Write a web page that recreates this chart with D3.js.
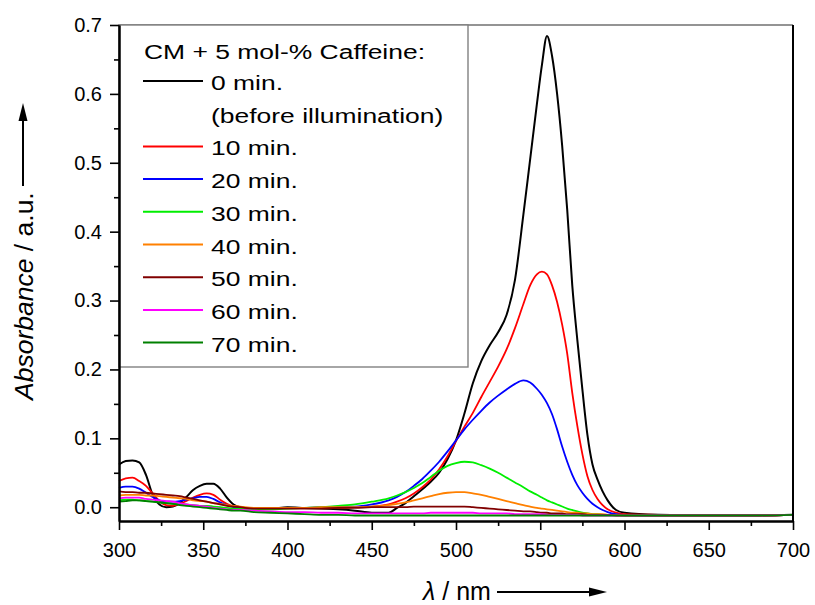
<!DOCTYPE html>
<html><head><meta charset="utf-8">
<script src="https://cdn.jsdelivr.net/npm/d3@7"></script>
<style>
body{margin:0;background:#fff}
svg{display:block}
text{font-family:"Liberation Sans",Arial,sans-serif;fill:#000}
</style>
</head><body>
<svg id="chart" width="815" height="605"></svg>
<script>
// ---------------- data ----------------
const wavelengths = [
  300,304,308,312,316,320,324,328,332,336,340,344,348,352,356,360,364,368,372,
  380,390,400,410,420,430,440,450,460,
  465,470,475,480,485,490,495,500,505,510,515,520,525,530,535,540,
  544,548,551,554,557,560,563,566,569,572,575,578,581,584,587,590,
  595,600,620,650,680,700];

const abs0min = [
  0.062,0.067,0.068,0.065,0.047,0.018,0.004,0.000,0.001,0.006,0.015,0.025,0.031,0.034,0.034,0.027,0.014,0.004,0.000,
  -0.002,-0.002,0.000,-0.001,-0.002,-0.003,-0.005,-0.008,-0.008,
  -0.001,0.006,0.016,0.026,0.037,0.050,0.070,0.097,0.136,0.180,0.212,0.235,0.254,0.279,0.33,0.425,
  0.505,0.585,0.642,0.684,0.655,0.60,0.525,0.432,0.322,0.243,0.171,0.105,0.062,0.04,0.023,0.010,
  -0.004,-0.008,-0.011,-0.012,-0.012,-0.011];
const abs10min = [
  0.038,0.042,0.043,0.038,0.031,0.020,0.009,0.003,0.002,0.005,0.009,0.014,0.018,0.020,0.018,0.011,0.005,0.001,-0.001,
  -0.002,-0.002,-0.001,-0.001,-0.001,-0.001,0.000,0.001,0.004,
  0.008,0.013,0.020,0.029,0.040,0.055,0.074,0.096,0.117,0.137,0.16,0.182,0.204,0.229,0.26,0.295,
  0.322,0.338,0.342,0.338,0.322,0.298,0.265,0.223,0.166,0.118,0.077,0.045,0.025,0.012,0.003,-0.003,
  -0.008,-0.010,-0.011,-0.012,-0.012,-0.011];
const abs20min = [
  0.028,0.030,0.030,0.027,0.021,0.015,0.010,0.008,0.008,0.009,0.011,0.013,0.015,0.015,0.012,0.007,0.003,0.000,-0.001,
  -0.002,-0.002,-0.001,-0.001,0.000,0.001,0.001,0.004,0.010,
  0.015,0.022,0.031,0.041,0.053,0.066,0.081,0.097,0.113,0.127,0.140,0.152,0.162,0.171,0.179,0.184,
  0.181,0.172,0.163,0.151,0.135,0.113,0.088,0.066,0.047,0.032,0.021,0.012,0.005,0.000,-0.004,-0.007,
  -0.010,-0.011,-0.012,-0.012,-0.012,-0.011];
const abs30min = [
  0.010,0.011,0.011,0.010,0.009,0.008,0.007,0.006,0.005,0.005,0.004,0.003,0.002,0.002,0.001,0.000,-0.001,-0.002,-0.002,
  -0.003,-0.003,-0.002,-0.001,0.000,0.002,0.004,0.008,0.013,
  0.017,0.022,0.028,0.035,0.044,0.053,0.060,0.064,0.066,0.065,0.061,0.056,0.050,0.043,0.036,0.029,
  0.023,0.018,0.014,0.010,0.007,0.004,0.001,-0.002,-0.004,-0.006,-0.008,-0.009,-0.010,-0.010,-0.011,-0.011,
  -0.011,-0.012,-0.012,-0.012,-0.012,-0.011];
const abs40min = [
  0.017,0.018,0.018,0.018,0.017,0.017,0.016,0.015,0.014,0.013,0.012,0.010,0.009,0.008,0.006,0.005,0.003,0.002,0.001,
  -0.001,-0.001,-0.001,-0.001,0.000,0.000,0.000,0.001,0.003,
  0.005,0.007,0.010,0.013,0.016,0.019,0.021,0.022,0.022,0.020,0.018,0.015,0.012,0.009,0.006,0.003,
  0.001,-0.001,-0.002,-0.003,-0.004,-0.005,-0.006,-0.007,-0.008,-0.008,-0.009,-0.009,-0.010,-0.010,-0.010,-0.011,
  -0.011,-0.011,-0.012,-0.012,-0.012,-0.011];
const abs50min = [
  0.023,0.022,0.022,0.021,0.021,0.020,0.019,0.018,0.017,0.016,0.014,0.012,0.010,0.008,0.006,0.004,0.002,0.001,0.000,
  -0.002,-0.002,-0.002,-0.002,-0.002,-0.001,-0.001,0.000,0.000,
  0.000,0.000,0.001,0.001,0.001,0.001,0.001,0.001,0.001,0.000,-0.001,-0.002,-0.003,-0.004,-0.005,-0.006,
  -0.006,-0.007,-0.008,-0.008,-0.009,-0.009,-0.009,-0.010,-0.010,-0.010,-0.010,-0.011,-0.011,-0.011,-0.011,-0.011,
  -0.012,-0.012,-0.012,-0.012,-0.012,-0.011];
const abs60min = [
  0.013,0.014,0.014,0.014,0.012,0.011,0.010,0.009,0.008,0.006,0.004,0.003,0.002,0.001,-0.001,-0.002,-0.003,-0.004,-0.004,
  -0.005,-0.006,-0.007,-0.007,-0.008,-0.008,-0.009,-0.009,-0.009,
  -0.009,-0.009,-0.009,-0.009,-0.008,-0.008,-0.008,-0.008,-0.008,-0.008,-0.009,-0.009,-0.009,-0.009,-0.010,-0.010,
  -0.010,-0.010,-0.010,-0.011,-0.011,-0.011,-0.011,-0.011,-0.011,-0.011,-0.012,-0.012,-0.012,-0.012,-0.012,-0.012,
  -0.012,-0.012,-0.012,-0.012,-0.012,-0.011];
const abs70min = [
  0.008,0.009,0.010,0.010,0.009,0.008,0.007,0.006,0.005,0.003,0.002,0.001,0.000,-0.001,-0.002,-0.003,-0.004,-0.005,-0.005,
  -0.007,-0.008,-0.009,-0.010,-0.011,-0.011,-0.012,-0.012,-0.012,
  -0.012,-0.012,-0.012,-0.012,-0.012,-0.012,-0.012,-0.012,-0.012,-0.012,-0.012,-0.012,-0.012,-0.012,-0.012,-0.012,
  -0.012,-0.012,-0.012,-0.012,-0.012,-0.012,-0.012,-0.012,-0.012,-0.012,-0.012,-0.012,-0.012,-0.012,-0.012,-0.012,
  -0.012,-0.012,-0.012,-0.012,-0.012,-0.011];

const seriesLabels = ["0 min.","10 min.","20 min.","30 min.","40 min.","50 min.","60 min.","70 min."];
const seriesColors = ["#000000","#ff0000","#0000ff","#00ee00","#ff8000","#800000","#ff00ff","#008000"];
const seriesValues = [abs0min,abs10min,abs20min,abs30min,abs40min,abs50min,abs60min,abs70min];

const legendTitle = "CM + 5 mol-% Caffeine:";
const legendNote = "(before illumination)";

const xTicks = [300,350,400,450,500,550,600,650,700];
const xMinorTicks = [325,375,425,475,525,575,625,675];
const yTicks = [0.0,0.1,0.2,0.3,0.4,0.5,0.6,0.7];
const yMinorTicks = [0.05,0.15,0.25,0.35,0.45,0.55,0.65];

// ---------------- drawing ----------------
const svg = d3.select("#chart");
const x = d3.scaleLinear().domain([300,700]).range([119,793]);
const y = d3.scaleLinear().domain([-0.02,0.7]).range([521,25]);

// curves
const line = d3.line()
  .defined(d => d[1] !== undefined && !isNaN(d[1]))
  .x(d => x(d[0])).y(d => y(d[1]))
  .curve(d3.curveMonotoneX);

const curves = svg.append("g");
seriesValues.forEach((vals,i) => {
  const pts = wavelengths.map((w,j) => [w, vals[j]]);
  curves.append("path")
    .attr("d", line(pts))
    .attr("fill","none")
    .attr("stroke", seriesColors[i])
    .attr("stroke-width", i === 0 ? 2 : 1.8)
    .attr("stroke-linejoin","round");
});

// frame: top (gray) and right (black)
svg.append("line").attr("x1",x(300)).attr("x2",x(700)).attr("y1",y(0.7)).attr("y2",y(0.7))
  .attr("stroke","#707070").attr("stroke-width",1.6);
svg.append("line").attr("x1",x(700)).attr("x2",x(700)).attr("y1",y(0.7)).attr("y2",y(-0.02))
  .attr("stroke","#000").attr("stroke-width",2);

// legend box
const lg = svg.append("g");
lg.append("rect").attr("x",x(300)).attr("y",y(0.7)).attr("width",349).attr("height",342)
  .attr("fill","#fff").attr("stroke","#808080").attr("stroke-width",1.4);
const stretch = 1.26;
lg.append("text").attr("transform",`translate(144,58.5) scale(${stretch},1)`)
  .attr("font-size",21).text(legendTitle);
const rowY = r => 81 + r*32.7;
seriesLabels.forEach((lab,i) => {
  const r = i === 0 ? 0 : i + 1;
  lg.append("line").attr("x1",143).attr("x2",203).attr("y1",rowY(r)).attr("y2",rowY(r))
    .attr("stroke",seriesColors[i]).attr("stroke-width",2);
  lg.append("text").attr("transform",`translate(211,${rowY(r)+9}) scale(${stretch},1)`)
    .attr("font-size",21).text(lab);
});
lg.append("text").attr("transform",`translate(211,${rowY(1)+9}) scale(${stretch},1)`)
  .attr("font-size",21).text(legendNote);

// axes
const fmt = d3.format(".1f");
const xAxis = svg.append("g").attr("transform",`translate(0,${y(-0.02)})`)
  .call(d3.axisBottom(x).tickValues(xTicks).tickSize(9).tickSizeOuter(0).tickPadding(13).tickFormat(d3.format("d")));
const xMinor = svg.append("g").attr("transform",`translate(0,${y(-0.02)})`)
  .call(d3.axisBottom(x).tickValues(xMinorTicks).tickSize(5).tickSizeOuter(0).tickFormat(""));
const yAxis = svg.append("g").attr("transform",`translate(${x(300)},0)`)
  .call(d3.axisLeft(y).tickValues(yTicks).tickSize(9).tickSizeOuter(0).tickPadding(8).tickFormat(fmt));
const yMinor = svg.append("g").attr("transform",`translate(${x(300)},0)`)
  .call(d3.axisLeft(y).tickValues(yMinorTicks).tickSize(5).tickSizeOuter(0).tickFormat(""));

[xAxis,xMinor,yAxis,yMinor].forEach(g => {
  g.select(".domain").attr("stroke","#000").attr("stroke-width",2);
  g.selectAll(".tick line").attr("stroke","#000").attr("stroke-width",1.6);
  g.selectAll(".tick text").attr("font-size",20).attr("font-family",'"Liberation Sans",Arial,sans-serif').attr("fill","#000");
});

// y title with arrow
const yt = svg.append("text").attr("transform","translate(33,400) rotate(-90)")
  .attr("font-size",26.5).attr("text-anchor","start");
yt.append("tspan").attr("font-style","italic").text("Absorbance");
yt.append("tspan").text(" / a.u.");
svg.append("line").attr("x1",23).attr("x2",23).attr("y1",186).attr("y2",116)
  .attr("stroke","#000").attr("stroke-width",2);
svg.append("path").attr("d","M23,103 L27.5,121 L18.5,121 Z").attr("fill","#000");

// x title with arrow
const xt = svg.append("text").attr("x",423).attr("y",600).attr("font-size",25);
xt.append("tspan").attr("font-style","italic").text("λ");
xt.append("tspan").text(" / nm");
svg.append("line").attr("x1",497).attr("x2",594).attr("y1",592).attr("y2",592)
  .attr("stroke","#000").attr("stroke-width",2);
svg.append("path").attr("d","M607,592 L589,587.5 L589,596.5 Z").attr("fill","#000");
</script>
</body></html>
